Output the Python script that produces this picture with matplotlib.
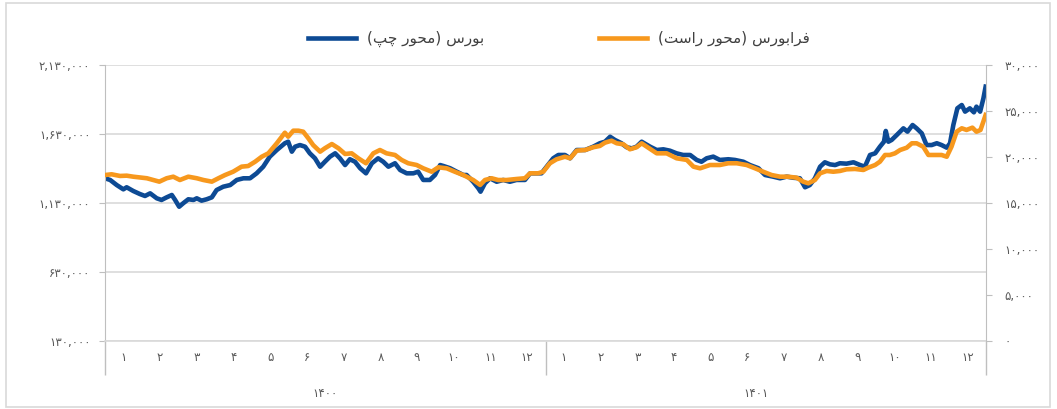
import matplotlib
matplotlib.use("Agg")
import matplotlib.pyplot as plt
from matplotlib.ticker import FixedLocator, FuncFormatter
from matplotlib.lines import Line2D
from matplotlib.patches import Rectangle

# ── داده‌ها (زمان بر حسب ماه از ابتدای ۱۴۰۰) ─────────────────────────────────
bourse_t = [0.00, 0.14, 0.32, 0.50, 0.59, 0.77, 0.95, 1.09, 1.23, 1.41, 1.54, 1.68, 1.82, 1.91,
            2.02, 2.13, 2.27, 2.41, 2.50, 2.63, 2.77, 2.91, 3.04, 3.22, 3.41, 3.59, 3.77, 3.95,
            4.13, 4.31, 4.49, 4.68, 4.90, 4.99, 5.09, 5.18, 5.31, 5.45, 5.58, 5.72, 5.86, 5.99,
            6.13, 6.27, 6.40, 6.54, 6.67, 6.81, 6.95, 7.11, 7.27, 7.44, 7.58, 7.72, 7.90, 8.04,
            8.22, 8.40, 8.53, 8.67, 8.85, 8.99, 9.13, 9.22, 9.40, 9.58, 9.76, 9.85, 10.03, 10.17,
            10.23, 10.35, 10.49, 10.67, 10.85, 11.03, 11.21, 11.44, 11.58, 11.76, 11.89, 12.03,
            12.21, 12.35, 12.53, 12.67, 12.85, 13.08, 13.30, 13.48, 13.62, 13.76, 13.89, 14.07,
            14.21, 14.35, 14.48, 14.62, 14.85, 15.03, 15.21, 15.39, 15.57, 15.75, 15.94, 16.12,
            16.25, 16.39, 16.57, 16.75, 16.98, 17.16, 17.39, 17.57, 17.80, 17.98, 18.20, 18.39,
            18.57, 18.75, 18.93, 19.07, 19.20, 19.34, 19.48, 19.61, 19.75, 19.89, 20.02, 20.20,
            20.39, 20.57, 20.70, 20.84, 20.98, 21.11, 21.22, 21.27, 21.34, 21.43, 21.57, 21.75,
            21.86, 22.00, 22.11, 22.25, 22.38, 22.52, 22.66, 22.79, 22.93, 23.02, 23.11, 23.22,
            23.34, 23.43, 23.56, 23.67, 23.74, 23.84, 23.93, 23.99]
bourse_val = [1309000, 1297000, 1260000, 1229000, 1244000, 1217000, 1195000, 1181000, 1200000,
              1164000, 1152000, 1171000, 1188000, 1152000, 1103000, 1128000, 1157000, 1152000,
              1164000, 1147000, 1157000, 1171000, 1224000, 1248000, 1260000, 1297000, 1309000,
              1309000, 1345000, 1393000, 1466000, 1514000, 1563000, 1574000, 1502000, 1538000,
              1550000, 1538000, 1490000, 1454000, 1393000, 1429000, 1466000, 1490000, 1454000,
              1405000, 1447000, 1429000, 1382000, 1345000, 1418000, 1454000, 1429000, 1393000,
              1418000, 1369000, 1345000, 1345000, 1357000, 1297000, 1297000, 1333000, 1405000,
              1398000, 1382000, 1357000, 1333000, 1333000, 1284000, 1237000, 1212000, 1273000,
              1309000, 1284000, 1297000, 1284000, 1297000, 1297000, 1345000, 1345000, 1345000,
              1393000, 1454000, 1478000, 1478000, 1454000, 1514000, 1514000, 1538000, 1563000,
              1574000, 1610000, 1587000, 1563000, 1534000, 1526000, 1538000, 1574000, 1538000,
              1514000, 1519000, 1509000, 1490000, 1478000, 1478000, 1442000, 1429000, 1454000,
              1466000, 1442000, 1447000, 1442000, 1429000, 1405000, 1382000, 1333000, 1321000,
              1309000, 1321000, 1313000, 1309000, 1244000, 1260000, 1309000, 1393000, 1425000,
              1410000, 1405000, 1418000, 1415000, 1425000, 1405000, 1393000, 1478000, 1490000,
              1538000, 1574000, 1652000, 1574000, 1587000, 1623000, 1671000, 1647000, 1695000,
              1671000, 1635000, 1550000, 1550000, 1563000, 1550000, 1531000, 1563000, 1695000,
              1816000, 1840000, 1792000, 1816000, 1787000, 1828000, 1792000, 1889000, 1973000]

farabourse_t = [0.00, 0.18, 0.41, 0.59, 0.77, 1.14, 1.32, 1.48, 1.68, 1.86, 2.04, 2.27, 2.50,
                2.68, 2.91, 3.09, 3.27, 3.49, 3.72, 3.90, 4.09, 4.27, 4.45, 4.68, 4.90, 4.99,
                5.13, 5.27, 5.40, 5.54, 5.67, 5.86, 5.99, 6.18, 6.36, 6.54, 6.72, 6.90, 7.11,
                7.31, 7.49, 7.67, 7.90, 8.08, 8.26, 8.49, 8.67, 8.90, 9.08, 9.31, 9.53, 9.76,
                9.85, 10.03, 10.22, 10.35, 10.53, 10.71, 10.94, 11.21, 11.44, 11.58, 11.80,
                11.94, 12.12, 12.30, 12.53, 12.67, 12.85, 13.08, 13.30, 13.48, 13.62, 13.80,
                13.94, 14.12, 14.30, 14.48, 14.62, 14.76, 15.03, 15.30, 15.57, 15.85, 16.03,
                16.21, 16.48, 16.75, 16.98, 17.21, 17.48, 17.71, 17.93, 18.16, 18.39, 18.61,
                18.84, 19.02, 19.16, 19.34, 19.48, 19.66, 19.84, 20.02, 20.20, 20.43, 20.66,
                20.79, 20.98, 21.11, 21.25, 21.38, 21.52, 21.66, 21.84, 21.98, 22.11, 22.29,
                22.43, 22.61, 22.79, 22.93, 23.06, 23.20, 23.34, 23.47, 23.63, 23.74, 23.85,
                23.99]
farabourse_val = [18040, 18120, 17940, 17970, 17860, 17690, 17500, 17320, 17690, 17860, 17500,
                  17860, 17690, 17500, 17320, 17690, 18040, 18400, 18950, 19020, 19490, 20030,
                  20400, 21490, 22640, 22210, 22860, 22860, 22750, 22030, 21300, 20580, 20950,
                  21410, 20950, 20330, 20400, 19860, 19320, 20400, 20760, 20400, 20220, 19680,
                  19320, 19130, 18770, 18400, 18880, 18770, 18400, 18040, 17860, 17500, 16960,
                  17500, 17690, 17500, 17500, 17610, 17690, 18230, 18230, 18400, 19320, 19750,
                  20030, 19860, 20690, 20760, 21060, 21200, 21560, 21770, 21490, 21380, 20840,
                  21060, 21490, 21120, 20400, 20400, 19860, 19680, 18950, 18770, 19130, 19130,
                  19320, 19320, 19130, 18770, 18400, 18040, 17860, 17860, 17750, 17320, 17140,
                  17500, 18230, 18480, 18400, 18480, 18660, 18700, 18590, 18840, 19130, 19490,
                  20220, 20220, 20400, 20760, 21010, 21490, 21490, 21120, 20220, 20220, 20220,
                  20030, 21120, 22750, 23120, 22940, 23190, 22750, 22940, 24570]

months = ['1', '2', '3', '4', '5', '6', '7', '8', '9', '10', '11', '12'] * 2
years = ['۱۴۰۰', '۱۴۰۱']
label_bourse = 'بورس (محور چپ)'
label_farabourse = 'فرابورس (محور راست)'

# ── متن فارسی: شکل‌دهی ساده حروف و ترتیب نمایش ────────────────────────────────
FORMS = {
    'ا': ('\uFE8D', '\uFE8E', None, None),
    'ب': ('\uFE8F', '\uFE90', '\uFE91', '\uFE92'),
    'پ': ('\uFB56', '\uFB57', '\uFB58', '\uFB59'),
    'ت': ('\uFE95', '\uFE96', '\uFE97', '\uFE98'),
    'چ': ('\uFB7A', '\uFB7B', '\uFB7C', '\uFB7D'),
    'ح': ('\uFEA1', '\uFEA2', '\uFEA3', '\uFEA4'),
    'ر': ('\uFEAD', '\uFEAE', None, None),
    'س': ('\uFEB1', '\uFEB2', '\uFEB3', '\uFEB4'),
    'ف': ('\uFED1', '\uFED2', '\uFED3', '\uFED4'),
    'م': ('\uFEE1', '\uFEE2', '\uFEE3', '\uFEE4'),
    'و': ('\uFEED', '\uFEEE', None, None),
}


def shape(s):
    out = []
    for i, c in enumerate(s):
        if c not in FORMS:
            out.append(c)
            continue
        prev = s[i - 1] if i > 0 else ''
        nxt = s[i + 1] if i + 1 < len(s) else ''
        join_prev = prev in FORMS and FORMS[prev][2] is not None
        join_next = FORMS[c][2] is not None and nxt in FORMS
        iso, fin, ini, med = FORMS[c]
        if join_prev and join_next:
            out.append(med)
        elif join_prev:
            out.append(fin)
        elif join_next:
            out.append(ini)
        else:
            out.append(iso)
    return ''.join(reversed(out)).translate(str.maketrans('()', ')('))


FA_DIGITS = str.maketrans('0123456789', '۰۱۲۳۴۵۶۷۸۹')


def fa(s):
    return s.translate(FA_DIGITS)


# ── رسم ──────────────────────────────────────────────────────────────────────
plt.rcParams['font.family'] = ['DejaVu Sans']
BLUE = '#0D4A94'
ORANGE = '#F7981D'
GRAY = '#BFBFBF'
GRID = '#D9D9D9'
TXT = '#595959'

fig = plt.figure(figsize=(10.57, 4.09), dpi=100)
fig.patches.append(Rectangle((6 / 1057, 2 / 409), 1044 / 1057, 404 / 409, transform=fig.transFigure,
                             fill=False, edgecolor=GRID, linewidth=1.2))
ax = fig.add_axes([105 / 1057, 68 / 409, 881 / 1057, 276 / 409])
ax2 = ax.twinx()

ax.plot(bourse_t, bourse_val, color=BLUE, linewidth=3.3, solid_joinstyle='round')
ax2.plot(farabourse_t, farabourse_val, color=ORANGE, linewidth=3.3, solid_joinstyle='round')

ax.set_xlim(0, 24)
ax.set_ylim(130000, 2130000)
ax.set_yticks(range(130000, 2130001, 500000))
ax.yaxis.set_major_formatter(FuncFormatter(lambda v, p: fa(f'{v:,.0f}')))
ax2.set_ylim(0, 30000)
ax2.set_yticks(range(0, 30001, 5000))
ax2.yaxis.set_major_formatter(FuncFormatter(lambda v, p: fa(f'{v:,.0f}')))

ax.yaxis.grid(True, color=GRID, linewidth=1.2)
ax.set_axisbelow(True)

for a in (ax, ax2):
    a.spines['top'].set_visible(False)
ax.spines['right'].set_visible(False)
ax.spines['left'].set_color(GRAY)
ax.spines['bottom'].set_color(GRID)
ax.spines['bottom'].set_linewidth(1.2)
ax2.spines['left'].set_visible(False)
ax2.spines['bottom'].set_visible(False)
ax2.spines['right'].set_color(GRAY)

ax.tick_params(axis='y', length=4.5, color=GRAY, labelsize=8.5, labelcolor=TXT, pad=6)
ax2.tick_params(axis='y', length=4.5, color=GRAY, labelsize=8.5, labelcolor=TXT, pad=9)

# جداکننده سال‌ها و برچسب ماه‌ها
ax.xaxis.set_major_locator(FixedLocator([0, 12, 24]))
ax.xaxis.set_major_formatter(FuncFormatter(lambda v, p: ''))
ax.xaxis.set_minor_locator(FixedLocator([i + 0.5 for i in range(24)]))
ax.set_xticklabels([fa(m) for m in months], minor=True)
ax.tick_params(axis='x', which='major', length=24.5, color=GRAY, width=1)
ax.tick_params(axis='x', which='minor', length=0, labelsize=8.5, labelcolor=TXT, pad=7)

for xpos, yr in zip([6, 17.75], years):
    ax.text(xpos, -0.19, yr, transform=ax.get_xaxis_transform(), ha='center', va='center',
            fontsize=8.5, color=TXT)

handles = [Line2D([], [], color=BLUE, linewidth=3.3), Line2D([], [], color=ORANGE, linewidth=3.3)]
fig.legend(handles, [shape(label_bourse), shape(label_farabourse)], loc='center',
           bbox_to_anchor=(559 / 1057, 370 / 409), ncol=2, frameon=False, fontsize=11,
           handlelength=3.15, handletextpad=0.72, columnspacing=7.5, labelcolor='#404040')

fig.savefig('out.png', dpi=100)
